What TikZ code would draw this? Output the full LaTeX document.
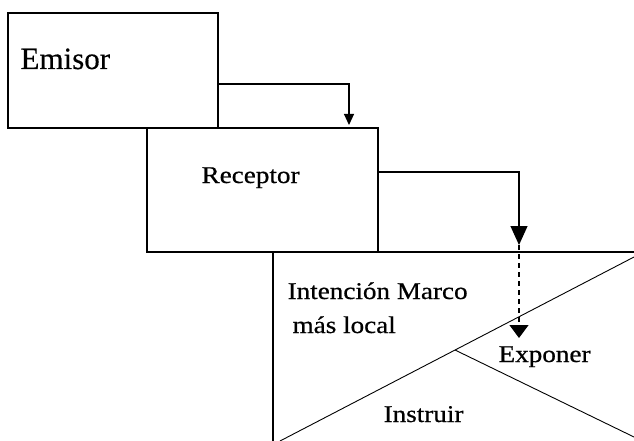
\documentclass[tikz,border=0pt]{standalone}
\usepackage{fontspec}
\setmainfont{Liberation Serif}
\usetikzlibrary{arrows.meta}
\begin{document}
\begin{tikzpicture}[x=1pt,y=1pt,line width=1.1pt,
    box/.style={draw,rectangle,inner sep=0pt,outer sep=0pt},
    big/.style={font=\fontsize{31}{36}\selectfont\addfontfeature{FakeBold=0.4},inner sep=0pt,anchor=base west},
    txt/.style={font=\fontsize{24}{34}\selectfont\addfontfeature{FakeBold=0.6},inner sep=0pt,anchor=base west,xscale=1.13},
    tipa/.style={-{Triangle[width=10pt,length=11pt]}},
    tipb/.style={-{Triangle[width=17pt,length=19pt]}},
    tipc/.style={-{Triangle[width=19pt,length=13pt]}}]
  \useasboundingbox (0,0) rectangle (634,-441);
  \clip (0,0) rectangle (634,-441);
  \node[box,minimum width=210pt,minimum height=115pt] (emisor) at (113,-70.5) {};
  \node[box,minimum width=231pt,minimum height=124pt] (receptor) at (262.5,-190) {};
  \node[box,minimum width=420pt,minimum height=260pt] (marco) at (483,-382) {};
  \node[big] (emisortxt) at (20,-69) {Emisor};
  \node[txt] (receptortxt) at (201,-183) {Receptor};
  \node[txt] (intencion) at (287,-299) {Intención Marco};
  \node[txt] (local) at (292,-333) {más local};
  \node[txt] (exponer) at (498,-362) {Exponer};
  \node[txt] (instruir) at (383,-422) {Instruir};
  \coordinate (d1) at (280,-441);
  \coordinate (d2) at (634,-257);
  \coordinate (d3) at (455,-350);
  \coordinate (d4) at (634,-437);
  \draw[line width=0.9pt] (d1) -- (d2);
  \draw[line width=0.9pt] (d3) -- (d4);
  \coordinate (drop) at (519,-245);
  \coordinate (exp) at (519,-338);
  \draw[tipa] ([yshift=-13.5pt]emisor.east) -| ([xshift=-29pt,yshift=3pt]receptor.north east);
  \draw[tipb] ([yshift=18pt]receptor.east) -| (drop);
  \draw[tipc,dash pattern=on 5pt off 4pt] (drop) -- (exp);
\end{tikzpicture}
\end{document}
